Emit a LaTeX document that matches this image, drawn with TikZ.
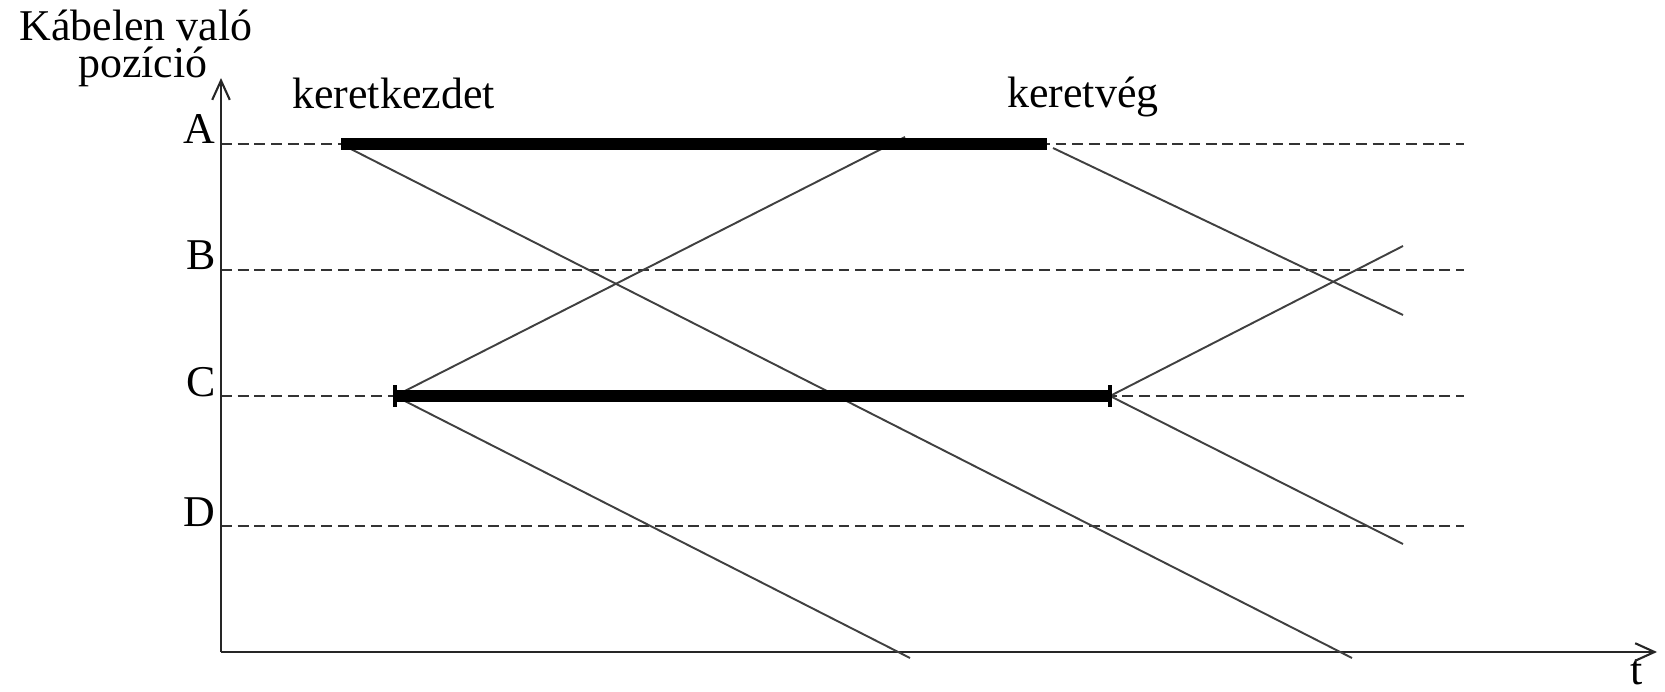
\documentclass[tikz,border=0pt]{standalone}
\usepackage{fontspec}
\setmainfont{Liberation Serif}
\usepackage{tikz}
\usetikzlibrary{arrows.meta,calc}

\begin{document}
\begin{tikzpicture}[x=0.02cm, y=-0.02cm, axis/.style = {line width=1.2pt,black!85,-{Straight Barb[length=11pt,width=10pt]}}, font=\fontsize{25}{30}\selectfont]
		\tikzset{level/.style={line width=1.5pt,black!80,dash pattern=on 6.2pt off 3.3pt}}
		\tikzset{signal/.style={line width=1.1pt,black!75}}
		\tikzset{frame/.style={line width=7pt,line cap=butt}}
		\tikzset{lbl/.style={inner sep=0pt}}
		\useasboundingbox (0,0) rectangle (1665,692);

		\coordinate (o) at (221,652);
		\coordinate (ytip) at (221,78);
		\coordinate (xtip) at (1657,652);

		\node[lbl, anchor=base] (ylab) at (136,41) {Kábelen való};
		\node[lbl, anchor=base] (ylab2) at (143,78) {pozíció};
		\node[lbl, anchor=base] (tlab) at (1637,684) {t};

		\node[lbl, anchor=base east] (A) at (216,144) {A};
		\node[lbl, anchor=base east] (B) at (216,270) {B};
		\node[lbl, anchor=base east] (C) at (216,396) {C};
		\node[lbl, anchor=base east] (D) at (216,526) {D};

		\node[lbl, anchor=base west] (start) at (292,109) {keretkezdet};
		\node[lbl, anchor=base west] (end) at (1007,108) {keretvég};

		\draw [level] (221,144) -- (1464,144);
		\draw [level] (221,270) -- (1464,270);
		\draw [level] (221,396) -- (1464,396);
		\draw [level] (221,526) -- (1464,526);

		\draw [axis] (o) -- (ytip);
		\draw [axis] (o) -- (xtip);

		\coordinate (As) at (341,144);
		\coordinate (Ae) at (1047,144);
		\coordinate (Cs) at (395,396);
		\coordinate (Ce) at (1110,396);

		\coordinate (s1) at (1352,658);
		\coordinate (s2) at (905,137);
		\coordinate (s3) at (910,658);
		\coordinate (s4) at (1403,315);
		\coordinate (s5) at (1403,246);
		\coordinate (s6) at (1403,544);

		\draw [signal] (As) -- (s1);
		\draw [signal] (Cs) -- (s2);
		\draw [signal] (Cs) -- (s3);
		\draw [signal] ($(Ae)+(6,4)$) -- (s4);
		\draw [signal] (Ce) -- (s5);
		\draw [signal] (Ce) -- (s6);

		\draw [frame] (As) -- (Ae);
		\draw [frame] (Cs) -- (Ce);
		\draw [line width=2.4pt] ($(Cs)+(0,-11)$) -- ($(Cs)+(0,11)$);
		\draw [line width=2.4pt] ($(Ce)+(0,-11)$) -- ($(Ce)+(0,11)$);

	\end{tikzpicture}
\end{document}
